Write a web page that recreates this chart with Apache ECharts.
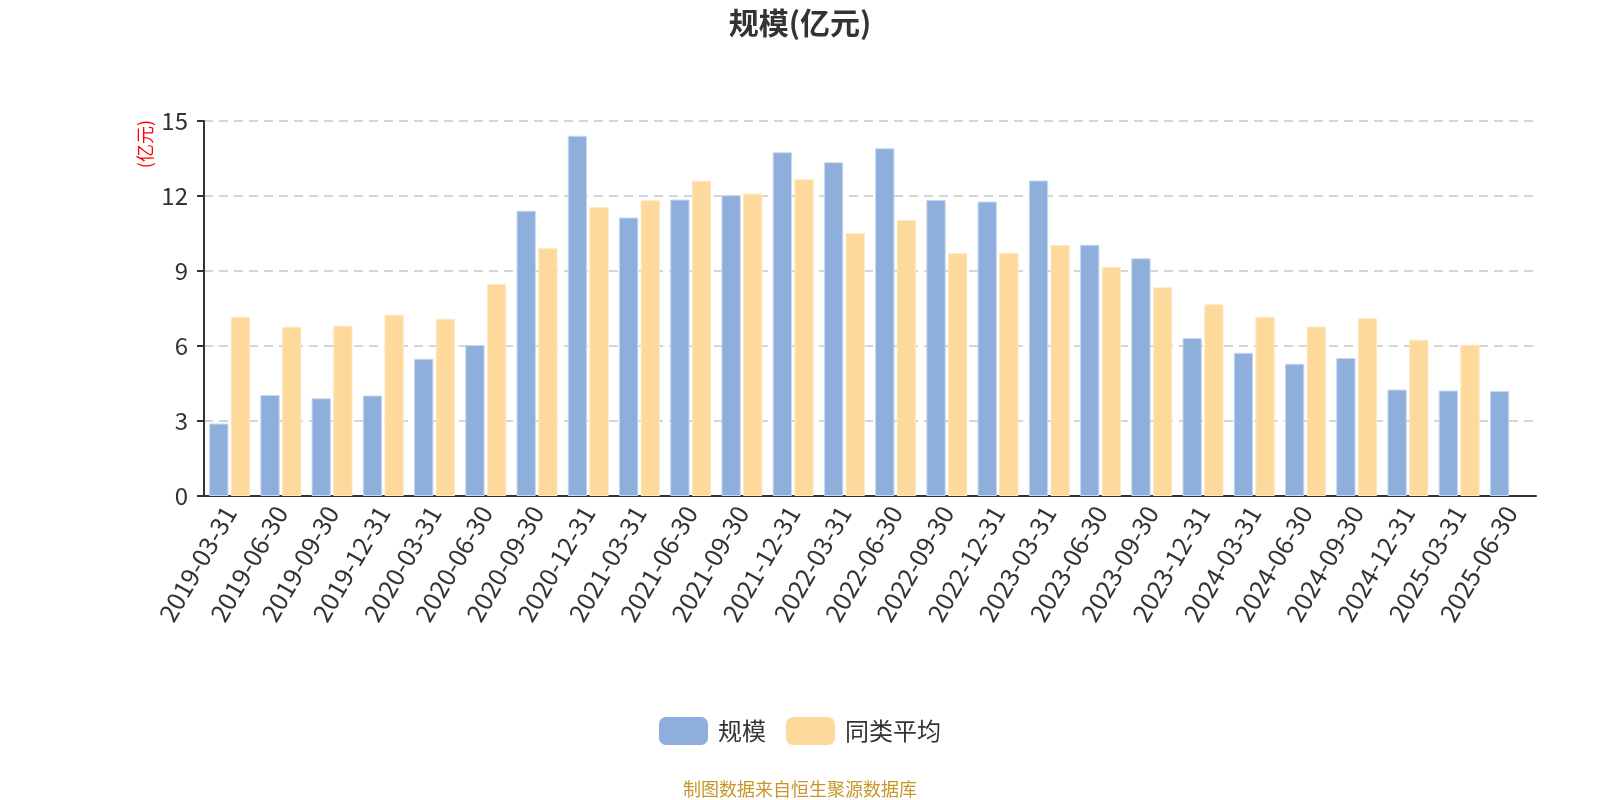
<!DOCTYPE html>
<html>
<head>
<meta charset="utf-8">
<script src="https://cdn.jsdelivr.net/npm/echarts@6/dist/echarts.min.js"></script>
<style>
  html, body { margin: 0; padding: 0; background: #fff; }
  #main { width: 1600px; height: 800px; }
</style>
</head>
<body>
<div id="main"></div>
<script>
// 季度规模 vs 同类平均
var categories = ['2019-03-31','2019-06-30','2019-09-30','2019-12-31','2020-03-31','2020-06-30',
  '2020-09-30','2020-12-31','2021-03-31','2021-06-30','2021-09-30','2021-12-31','2022-03-31',
  '2022-06-30','2022-09-30','2022-12-31','2023-03-31','2023-06-30','2023-09-30','2023-12-31',
  '2024-03-31','2024-06-30','2024-09-30','2024-12-31','2025-03-31','2025-06-30'];
var scaleValues = [2.90, 4.04, 3.91, 4.02, 5.49, 6.04, 11.41, 14.41, 11.14, 11.86, 12.03, 13.75, 13.35,
  13.91, 11.84, 11.78, 12.62, 10.05, 9.51, 6.32, 5.73, 5.29, 5.52, 4.26, 4.22, 4.20];
var avgValues = [7.17, 6.77, 6.81, 7.25, 7.09, 8.48, 9.91, 11.56, 11.83, 12.61, 12.10, 12.67, 10.52,
  11.04, 9.72, 9.73, 10.04, 9.16, 8.35, 7.67, 7.17, 6.78, 7.11, 6.25, 6.05, null];
var yTicks = [0, 3, 6, 9, 12, 15];

var font = '"Noto Sans CJK SC", "Noto Sans", sans-serif';
var chart = echarts.init(document.getElementById('main'));

var option = {
  backgroundColor: '#fff',
  textStyle: { fontFamily: font },
  title: {
    text: '规模(亿元)',
    left: 'center',
    top: 3,
    textStyle: { fontSize: 30, fontWeight: 'bold', color: '#333', fontFamily: font }
  },
  legend: {
    bottom: 50,
    left: 'center',
    itemWidth: 49,
    itemHeight: 28,
    itemGap: 20,
    itemStyle: { borderWidth: 0 },
    textStyle: { fontSize: 24, color: '#333', padding: [0, 0, 0, 5] },
    data: ['规模', '同类平均']
  },
  grid: { left: 204, right: 64, top: 121, bottom: 304 },
  xAxis: {
    type: 'category',
    data: categories,
    axisLine: { lineStyle: { color: '#333', width: 2 } },
    axisTick: { lineStyle: { color: '#333', width: 2 }, length: 7 },
    axisLabel: { rotate: 60, fontSize: 25, color: '#333', interval: 0, margin: 12 }
  },
  yAxis: {
    type: 'value',
    min: yTicks[0],
    max: yTicks[yTicks.length - 1],
    interval: yTicks[1] - yTicks[0],
    axisLine: { show: true, lineStyle: { color: '#333', width: 2 } },
    axisTick: { show: true, lineStyle: { color: '#333', width: 2 }, length: 7 },
    axisLabel: { fontSize: 24, color: '#333', margin: 16 },
    splitLine: { lineStyle: { type: [9, 6], color: '#c8c8c8', width: 1.5 } }
  },
  graphic: [{
    type: 'text',
    left: 136,
    top: 120,
    rotation: Math.PI / 2,
    style: { text: '(亿元)', fill: '#ff0000', fontSize: 18, fontFamily: font }
  }, {
    type: 'text',
    left: 'center',
    bottom: 2,
    style: { text: '制图数据来自恒生聚源数据库', fill: '#c8962a', fontSize: 18, fontFamily: font }
  }],
  series: [{
    name: '规模',
    type: 'bar',
    data: scaleValues,
    barGap: '12%',
    barCategoryGap: '20%',
    itemStyle: { color: '#8eaedb', borderColor: '#c8d8ef', borderWidth: 1 }
  }, {
    name: '同类平均',
    type: 'bar',
    data: avgValues,
    itemStyle: { color: '#fdd99b', borderColor: '#fee9c4', borderWidth: 1 }
  }]
};

chart.setOption(option);
</script>
</body>
</html>
